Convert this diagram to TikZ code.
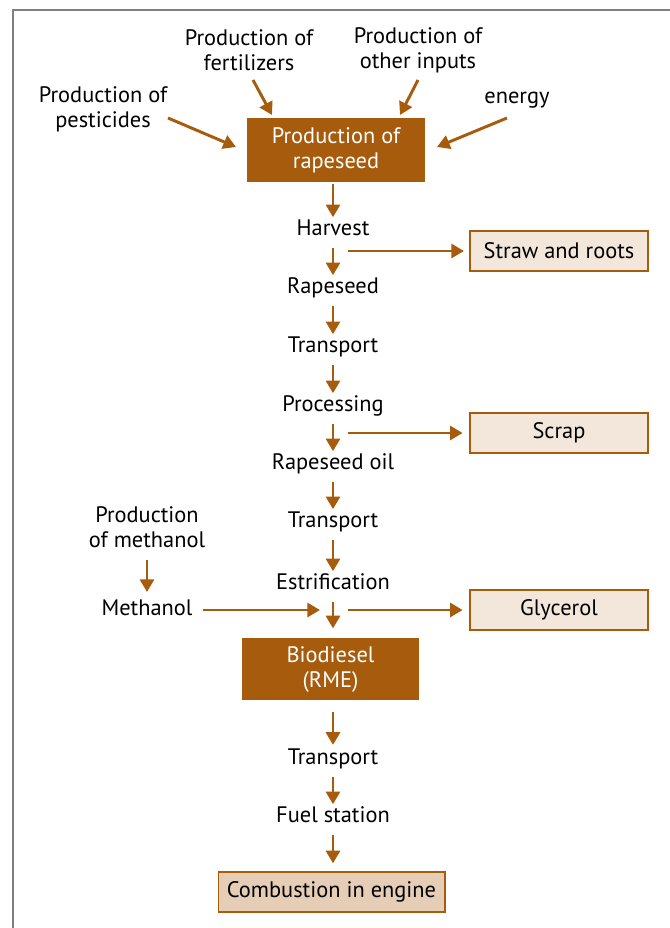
\documentclass[tikz,border=0pt]{standalone}
\usepackage{fontspec}
\setmainfont{PT Sans}
\usetikzlibrary{arrows.meta}
\definecolor{brn}{HTML}{A65B0D}
\definecolor{lite}{HTML}{F3E6DA}
\definecolor{tan}{HTML}{E6CDB5}
\definecolor{frm}{HTML}{7F7F7F}
\begin{document}
\begin{tikzpicture}[x=0.75pt,y=-0.75pt,
  every node/.style={font=\fontsize{16.8pt}{18.8pt}\selectfont, text=black, align=center},
  lbl/.style={inner sep=0pt, text height=0.72em, text depth=0.2em, minimum height=22.5pt},
  darkbox/.style={fill=brn, text=white, inner sep=0pt, minimum width=133.5pt, minimum height=48pt},
  litebox/.style={fill=lite, draw=brn, line width=1pt, inner sep=0pt, minimum width=133.5pt, minimum height=30pt},
  arr/.style={draw=brn, line width=2.2pt, -{Triangle[length=9.5pt,width=10.5pt]}},
]
\useasboundingbox (0,0) rectangle (670,928);
\draw[frm, line width=1.6pt] (13,928) -- (13,10) -- (670,10);

% top inputs
\node (fert) at (249,50) {Production of\\fertilizers};
\node (other) at (418,50) {Production of\\other inputs};
\node (pest) at (103,109) {Production of\\pesticides};
\node (energy) at (517,100) {energy};
\node[darkbox, minimum width=133.5pt] (prod) at (336,150) {Production of\\rapeseed};

\coordinate (f0) at (253,80); \coordinate (f1) at (272,115);
\coordinate (o0) at (418,80); \coordinate (o1) at (400,115);
\coordinate (p0) at (168,118); \coordinate (p1) at (236,147);
\coordinate (e0) at (507,118); \coordinate (e1) at (437,147);
\draw[arr] (f0) -- (f1);
\draw[arr] (o0) -- (o1);
\draw[arr] (p0) -- (p1);
\draw[arr] (e0) -- (e1);

% chain
\node[lbl] (harvest) at (333,232.5) {Harvest};
\node[lbl] (rapeseed) at (333,290.5) {Rapeseed};
\node[lbl] (trans1) at (333,349.5) {Transport};
\node[lbl] (proc) at (333,408.5) {Processing};
\node[lbl] (oil) at (333,466.5) {Rapeseed oil};
\node[lbl] (trans2) at (333,524.5) {Transport};
\node[lbl] (estr) at (333,586.5) {Estrification};
\node[darkbox, minimum width=133pt, minimum height=46.5pt] (bio) at (330.5,669) {\rule{0pt}{1.5ex}Biodiesel\\(RME)};
\node[lbl] (trans3) at (333,761.5) {Transport};
\node[lbl] (fuel) at (333,819.5) {Fuel station};
\node[fill=tan, draw=brn, line width=1pt, inner sep=0pt, minimum width=170pt, minimum height=30pt] (comb) at (331.5,892) {Combustion in engine};

\draw[arr, shorten <=1.5pt] (prod.south -| harvest) -- (harvest);
\draw[arr] (harvest) -- (rapeseed);
\draw[arr] (rapeseed) -- (trans1);
\draw[arr] (trans1) -- (proc);
\draw[arr] (proc) -- (oil);
\draw[arr] (oil) -- (trans2);
\draw[arr] (trans2) -- (estr);
\draw[arr, shorten >=7pt] (estr) -- (bio.north -| estr);
\draw[arr, shorten <=9pt, shorten >=1pt] (bio.south -| trans3) -- (trans3);
\draw[arr] (trans3) -- (fuel);
\draw[arr, shorten >=6pt] (fuel) -- (comb.north -| fuel);

% side outputs
\node[litebox] (straw) at (559,251) {Straw and roots};
\node[litebox] (scrap) at (559,433) {Scrap};
\node[litebox] (gly) at (559,610) {Glycerol};
\coordinate (s1) at (348,251);
\coordinate (s2) at (348,433);
\coordinate (s3) at (348,610);
\draw[arr, shorten >=4pt] (s1) -- (straw);
\draw[arr, shorten >=5pt] (s2) -- (scrap);
\draw[arr, shorten >=5pt] (s3) -- (gly);

% methanol
\node (pmeth) at (147,527) {Production\\of methanol};
\node[lbl] (meth) at (147,612) {Methanol};
\coordinate (m1) at (320,610);
\draw[arr] (147,560) -- (147,592);
\draw[arr] (203,610) -- (m1);
\end{tikzpicture}
\end{document}
